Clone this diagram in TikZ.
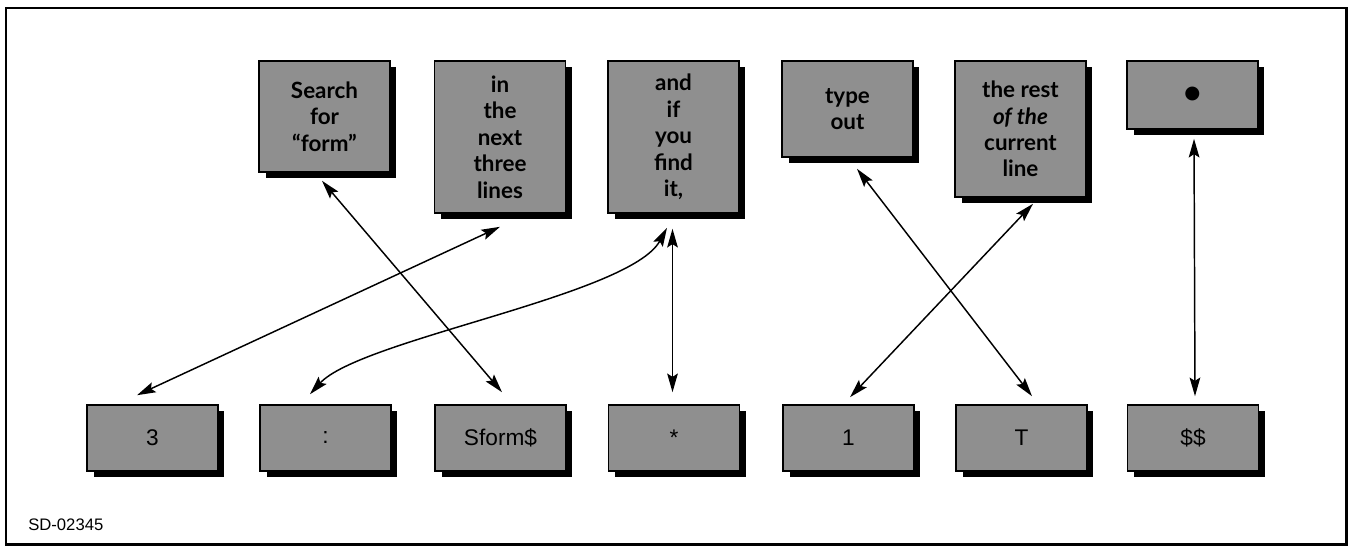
\documentclass[tikz,border=0pt]{standalone}
\usepackage{fontspec}
\setmainfont{Lato}
\newfontfamily\keyfont{Liberation Sans}
\usetikzlibrary{arrows.meta,shadows,calc}
\begin{document}
\begin{tikzpicture}[x=0.75pt,y=-0.75pt,
  keybox/.style={draw=black, line width=1.2pt, fill=black!44,
    general shadow={fill=black, shadow xshift=4.8pt, shadow yshift=-4.8pt},
    minimum width=98pt, inner sep=0pt, align=center,
    font=\fontsize{16.8}{19.8}\selectfont\bfseries},
  cmdkey/.style={keybox, minimum height=49.5pt,
    font=\keyfont\fontsize{17}{20}\selectfont},
  link/.style={line width=1.1pt,
    {Stealth[length=14pt,width=8pt,inset=2.5pt]}-{Stealth[length=14pt,width=8pt,inset=2.5pt]}}]
\useasboundingbox (0,0) rectangle (1348,546);
% outer frame
\draw[line width=1.6pt] (6,8) rectangle (1346.5,544.5);

% meaning of each part of the command
\node[keybox, minimum height=83.25pt] (search) at (324.5,116.5) {Search\\for\\``form''};
\node[keybox, minimum height=114pt]   (lines)  at (500,137)    {in\\the\\next\\three\\lines};
\node[keybox, minimum height=114pt]   (find)   at (673.5,137)  {and\\if\\you\\find\\it,};
\node[keybox, minimum height=72pt]    (type)   at (847.5,109)  {type\\out};
\node[keybox, minimum height=102pt]   (rest)   at (1020.5,129) {the rest\\\textit{of the}\\current\\line};
\node[keybox, minimum height=51pt]    (dot)    at (1192.5,95)  {\fontsize{24}{24}\selectfont •};

% the command, one key per part
\node[cmdkey] (k3)      at (152.5,438)  {3};
\node[cmdkey] (colon)   at (325.5,438)  {:};
\node[cmdkey] (sform)   at (500.5,438)  {Sform\$};
\node[cmdkey] (star)    at (674,438)    {*};
\node[cmdkey] (one)     at (848.5,438)  {1};
\node[cmdkey] (tee)     at (1021.5,438) {T};
\node[cmdkey] (dollars) at (1193,438)   {\$\$};

% connectors
\draw[link] ($(search.south)+(-2.5,8)$) -- ($(sform.north)+(1.5,-12)$);
\draw[link] ($(lines.south)+(0,13)$) -- ($(k3.north)+(-15.5,-9)$);
\draw[link] ($(colon.north)+(-15.5,-10)$) .. controls +(50,-55) and +(-37,68) .. ($(find.south)+(-6.5,14)$);
\draw[link] ($(find.south)+(-1,15)$) -- ($(star.north)+(-1.5,-12)$);
\draw[link] ($(type.south)+(9.5,11)$) -- ($(tee.north)+(10.5,-8)$);
\draw[link] ($(rest.south)+(12.5,6)$) -- ($(one.north)+(1.5,-7)$);
\draw[link] ($(dot.south)+(1.5,9)$) -- ($(dollars.north)+(2,-8)$);

\node[anchor=base west, inner sep=0pt, font=\keyfont\fontsize{12.5}{15}\selectfont] (id) at (28,530) {SD-02345};
\end{tikzpicture}
\end{document}
